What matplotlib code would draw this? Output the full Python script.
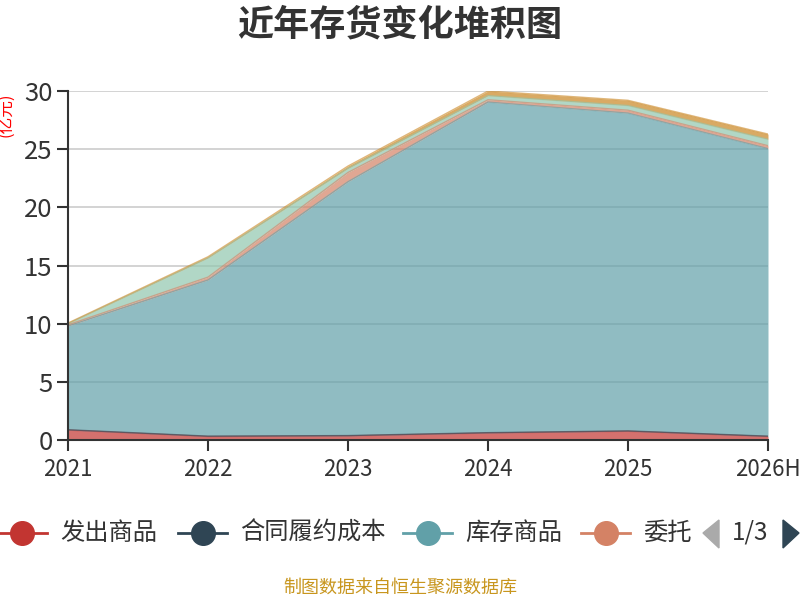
import numpy as np
import matplotlib
matplotlib.use('Agg')
import matplotlib.pyplot as plt
from matplotlib.patches import Polygon
from matplotlib.lines import Line2D

plt.rcParams['font.family'] = ['Noto Sans CJK SC', 'DejaVu Sans']

years = ['2021', '2022', '2023', '2024', '2025', '2026H']
fachu = [0.85, 0.30, 0.35, 0.60, 0.75, 0.30]        # 发出商品
hetong = [0.03, 0.03, 0.03, 0.03, 0.03, 0.03]       # 合同履约成本
kucun = [8.92, 13.42, 21.82, 28.42, 27.32, 24.72]   # 库存商品
weituo = [0.10, 0.25, 0.80, 0.20, 0.25, 0.25]       # 委托加工物资
yuancl = [0.10, 1.65, 0.35, 0.35, 0.40, 0.55]       # 原材料
zaichan = [0.05, 0.10, 0.20, 0.40, 0.45, 0.45]      # 在产品

series = [fachu, hetong, kucun, weituo, yuancl, zaichan]
colors = ['#c23531', '#2f4554', '#61a0a8', '#d48265', '#91c7ae', '#ca8622']
legend_names = ['发出商品', '合同履约成本', '库存商品', '委托']

fig = plt.figure(figsize=(8, 6), dpi=100)
ax = fig.add_axes([0.085, 0.2667, 0.875, 0.5816])

x = np.arange(len(years))
base = np.zeros(len(years))
for vals, c in zip(series, colors):
    top = base + np.array(vals)
    ax.fill_between(x, base, top, color=c, alpha=0.7, lw=0, zorder=2)
    ax.plot(x, top, color=c, lw=1.0, alpha=0.6, zorder=3)
    base = top

ax.set_xlim(0, len(years) - 1)
ax.set_ylim(0, 30)
ax.set_yticks([0, 5, 10, 15, 20, 25, 30])
ax.set_xticks(x)
ax.set_xticklabels(years)
ax.grid(axis='y', color='#cccccc', lw=1.2, zorder=1)
ax.set_axisbelow(True)
for s in ['top', 'right']:
    ax.spines[s].set_visible(False)
for s in ['left', 'bottom']:
    ax.spines[s].set_color('#333333')
    ax.spines[s].set_linewidth(1.5)
    ax.spines[s].set_zorder(5)
ax.tick_params(axis='both', colors='#333333', length=8, width=1.5)
ax.tick_params(axis='y', labelsize=18.5, pad=3)
ax.tick_params(axis='x', labelsize=16, pad=5)

fig.text(0.5, 0.958, '近年存货变化堆积图', ha='center', va='center',
         fontsize=26, fontweight='bold', color='#333333')
fig.text(0.009, 0.808, '(亿元)', ha='center', va='center', rotation=90,
         fontsize=12, color='red')

# legend (page 1 of 3)
ly = 1 - 533 / 600
lx = [-2, 178, 403, 581]
for name, c, x0 in zip(legend_names, colors, lx):
    x0f = x0 / 800
    x1f = (x0 + 49) / 800
    fig.add_artist(Line2D([x0f, x1f], [ly, ly], color=c, lw=2, transform=fig.transFigure))
    fig.add_artist(Line2D([(x0f + x1f) / 2], [ly], marker='o', markersize=17, color=c,
                          lw=0, transform=fig.transFigure))
    fig.text((x0 + 62) / 800, ly, name, ha='left', va='center', fontsize=17.5, color='#333333')

fig.add_artist(Polygon([[719 / 800, 1 - 520 / 600], [719 / 800, 1 - 548 / 600], [703 / 800, ly]],
                       closed=True, color='#aaaaaa', transform=fig.transFigure))
fig.text(750 / 800, ly, '1/3', ha='center', va='center', fontsize=17.5, color='#333333')
fig.add_artist(Polygon([[783 / 800, 1 - 520 / 600], [783 / 800, 1 - 548 / 600], [799 / 800, ly]],
                       closed=True, color='#2f4554', transform=fig.transFigure))

fig.text(0.5, 1 - 588 / 600, '制图数据来自恒生聚源数据库', ha='center', va='center',
         fontsize=13, color='#c8961e')

fig.savefig('out.png', dpi=100)
